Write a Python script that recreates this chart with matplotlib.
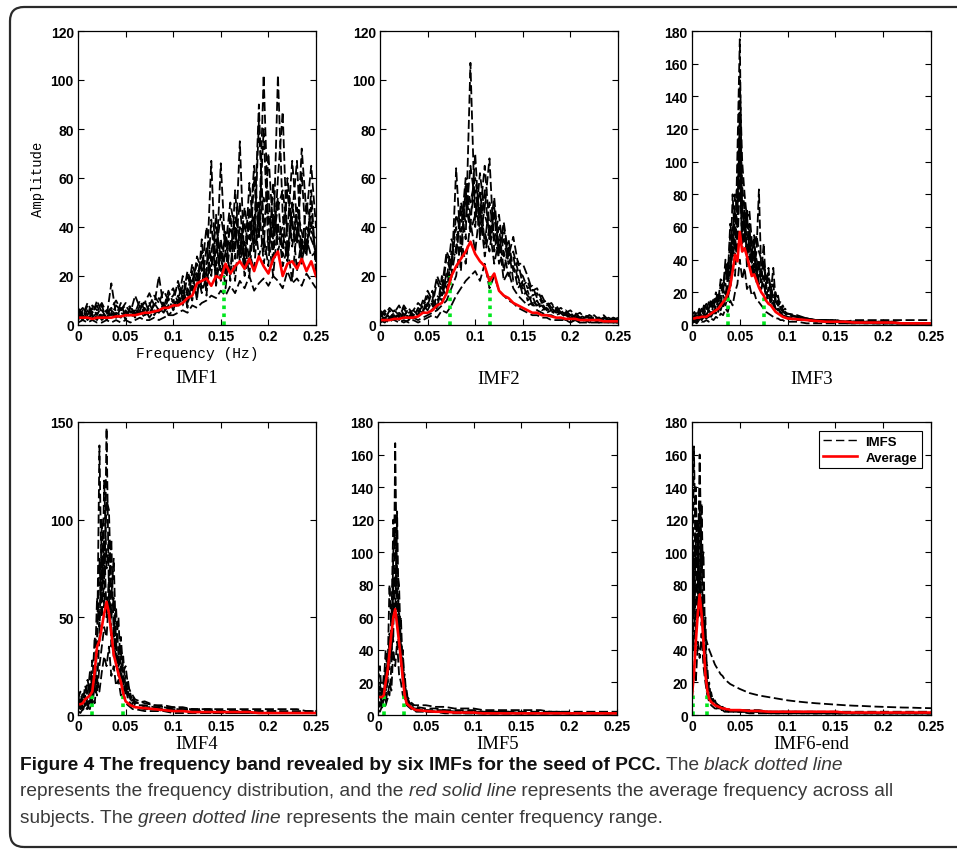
import matplotlib
matplotlib.use("Agg")
import matplotlib.pyplot as plt
from matplotlib.patches import FancyBboxPatch
from matplotlib.lines import Line2D

W, H = 957, 854
OUT = "out.png"

# ---------------- data ----------------
x_ticks = [0, 0.05, 0.1, 0.15, 0.2, 0.25]
x_tick_labels = ["0", "0.05", "0.1", "0.15", "0.2", "0.25"]
panel_names = ["IMF1", "IMF2", "IMF3", "IMF4", "IMF5", "IMF6-end"]
panel_ymax = [120, 120, 180, 150, 180, 180]
panel_ystep = [20, 20, 20, 50, 20, 20]

# IMF1 / IMF2 sampled every 0.005 Hz
imf1_freq = [0, .005, .01, .015, .02, .025, .03, .035, .04, .045,
             .05, .055, .06, .065, .07, .075, .08, .085, .09, .095,
             .1, .105, .11, .115, .12, .125, .13, .135, .14, .145,
             .15, .155, .16, .165, .17, .175, .18, .185, .19, .195,
             .2, .205, .21, .215, .22, .225, .23, .235, .24, .245, .25]
imf2_freq = imf1_freq

imf1_avg = [3, 3, 3, 2.5, 3, 3, 3, 3, 3.5, 3.5,
            4, 4, 4, 4.5, 5, 5, 5.5, 6, 7, 7,
            8, 8, 9, 11, 12, 17, 18, 19, 16, 20,
            19, 25, 21, 24, 26, 23, 27, 22, 28, 24,
            21, 27, 30, 20, 25, 26, 23, 27, 22, 26, 20]
imf1_subjects = [
    [4, 2, 6, 3, 5, 2, 4, 7, 3, 5, 4, 6, 3, 8, 5, 4, 9, 6, 5, 8,
     10, 7, 14, 9, 18, 25, 15, 32, 20, 45, 22, 38, 18, 55, 30, 42, 25, 60, 35, 102,
     40, 30, 102, 45, 28, 50, 35, 62, 30, 48, 25],
    [2, 5, 3, 4, 2, 6, 3, 17, 4, 3, 6, 3, 5, 4, 7, 3, 6, 5, 9, 4,
     6, 12, 8, 15, 10, 22, 13, 20, 67, 18, 35, 20, 45, 27, 75, 22, 48, 30, 83, 40,
     55, 25, 60, 87, 30, 45, 67, 25, 40, 35, 30],
    [6, 3, 8, 4, 10, 5, 3, 6, 4, 9, 3, 7, 4, 6, 10, 5, 8, 20, 7, 12,
     15, 9, 20, 12, 25, 18, 30, 14, 28, 22, 66, 28, 40, 32, 50, 24, 58, 36, 90, 30,
     70, 38, 52, 28, 60, 40, 33, 72, 45, 65, 40],
    [3, 4, 2, 5, 3, 4, 6, 3, 5, 4, 5, 4, 6, 5, 4, 7, 5, 6, 8, 7,
     8, 10, 12, 9, 16, 14, 18, 25, 30, 40, 28, 36, 30, 44, 35, 26, 42, 32, 38, 80,
     30, 45, 35, 40, 55, 32, 48, 38, 30, 42, 28],
    [5, 7, 4, 8, 6, 9, 5, 7, 10, 6, 8, 5, 12, 7, 9, 13, 8, 11, 7, 14,
     9, 18, 11, 22, 16, 12, 26, 19, 24, 35, 18, 30, 22, 40, 26, 34, 20, 45, 28, 36,
     24, 58, 30, 38, 26, 44, 22, 35, 28, 55, 20],
    [1, 2, 1, 2, 1, 1, 2, 1, 2, 1, 2, 1, 2, 3, 2, 2, 3, 2, 3, 4,
     4, 5, 6, 5, 8, 7, 9, 10, 12, 11, 14, 12, 16, 13, 18, 15, 20, 14, 17, 19,
     16, 20, 18, 15, 22, 17, 19, 16, 21, 18, 15],
    [7, 4, 9, 5, 8, 3, 6, 4, 8, 6, 9, 7, 5, 10, 6, 8, 12, 9, 14, 10,
     12, 16, 10, 20, 14, 28, 22, 40, 26, 30, 45, 32, 50, 38, 28, 48, 35, 65, 40, 52,
     45, 35, 48, 55, 38, 67, 42, 30, 50, 38, 35],
    [3, 6, 2, 7, 4, 8, 2, 5, 3, 7, 2, 8, 4, 6, 3, 9, 4, 7, 5, 11,
     6, 9, 16, 7, 22, 10, 35, 12, 43, 16, 30, 15, 35, 18, 40, 20, 30, 22, 50, 25,
     36, 20, 42, 24, 32, 18, 40, 26, 35, 28, 30],
]

imf2_avg = [2, 2, 2, 2.5, 2.5, 3, 3, 3, 3.5, 5,
            5, 6, 8, 9, 13, 20, 24, 27, 30, 34,
            29, 26, 24, 18, 21, 14, 12, 11, 9, 8,
            7, 6, 5, 5, 4, 4, 3.5, 3, 3, 2.5,
            2.5, 2.5, 2, 2, 2, 2, 2, 1.5, 1.5, 1.5, 1.5]
imf2_subjects = [
    [3, 5, 2, 6, 4, 3, 7, 4, 5, 8, 6, 10, 8, 15, 12, 30, 28, 48, 35, 107,
     40, 62, 45, 38, 52, 30, 35, 25, 28, 18, 15, 12, 10, 8, 9, 6, 7, 5, 6, 4,
     5, 3, 4, 3, 4, 2, 3, 4, 2, 3, 2],
    [2, 3, 4, 2, 5, 3, 2, 4, 6, 5, 9, 7, 12, 10, 22, 18, 64, 30, 55, 40,
     70, 35, 48, 68, 30, 40, 22, 32, 18, 20, 12, 14, 8, 10, 6, 7, 5, 6, 4, 5,
     3, 4, 2, 3, 3, 4, 2, 3, 2, 2, 3],
    [5, 2, 6, 3, 4, 7, 3, 5, 4, 10, 8, 14, 6, 20, 15, 25, 40, 22, 58, 45,
     55, 42, 38, 30, 45, 25, 30, 20, 24, 15, 18, 10, 12, 7, 8, 5, 6, 4, 5, 3,
     4, 2, 3, 2, 3, 2, 2, 3, 2, 2, 2],
    [1, 2, 1, 3, 2, 1, 2, 3, 2, 3, 4, 5, 6, 8, 10, 15, 20, 35, 25, 42,
     30, 48, 28, 40, 25, 35, 18, 22, 15, 12, 10, 8, 9, 6, 5, 4, 4, 3, 3, 2,
     2, 2, 1, 2, 1, 2, 1, 1, 2, 1, 1],
    [4, 6, 3, 5, 8, 4, 6, 3, 7, 5, 12, 8, 18, 12, 28, 20, 32, 45, 50, 38,
     45, 55, 33, 50, 36, 28, 40, 25, 30, 22, 20, 15, 16, 11, 12, 8, 9, 6, 7, 5,
     6, 4, 5, 3, 4, 3, 3, 2, 3, 2, 3],
    [2, 1, 3, 2, 1, 2, 1, 2, 1, 2, 3, 4, 3, 6, 5, 8, 12, 15, 18, 20,
     22, 18, 25, 15, 20, 14, 12, 10, 9, 7, 6, 5, 4, 4, 3, 3, 2, 2, 2, 2,
     1, 2, 1, 1, 1, 1, 1, 1, 1, 1, 1],
    [6, 4, 7, 5, 3, 8, 5, 6, 9, 7, 14, 10, 20, 15, 30, 25, 45, 38, 60, 50,
     60, 45, 65, 40, 35, 45, 28, 35, 22, 26, 16, 18, 12, 13, 9, 10, 7, 8, 5, 6,
     4, 5, 3, 4, 3, 3, 2, 3, 2, 3, 2],
    [1, 3, 2, 4, 2, 5, 3, 6, 4, 6, 8, 6, 10, 13, 18, 35, 30, 50, 42, 65,
     50, 38, 55, 35, 48, 30, 42, 28, 36, 25, 25, 20, 14, 15, 10, 9, 6, 7, 4, 4,
     3, 3, 3, 2, 2, 2, 2, 2, 1, 1, 1],
]

# IMF3: fine below 0.1 Hz, coarse above
imf3_freq = [0, .0025, .005, .0075, .01, .0125, .015, .0175, .02, .0225,
             .025, .0275, .03, .0325, .035, .0375, .04, .0425, .045, .0475,
             .05, .0525, .055, .0575, .06, .0625, .065, .0675, .07, .0725,
             .075, .0775, .08, .0825, .085, .0875, .09, .0925, .095, .0975,
             .1, .11, .12, .13, .14, .15, .16, .17, .18, .19,
             .2, .21, .22, .23, .24, .25]
imf3_avg = [4, 4, 4.5, 4.5, 5, 5, 5, 6, 7, 8,
            9, 10, 12, 14, 16, 19, 24, 33, 43, 39,
            57, 45, 47, 42, 36, 30, 31, 27, 23, 20,
            18, 15, 13, 12, 10, 8, 7, 6, 5, 4.5,
            4, 3.5, 3, 2.5, 2, 2, 2, 1.5, 1.5, 1.5,
            1.5, 1.5, 1, 1, 1, 1]
imf3_subjects = [
    [3, 6, 4, 8, 5, 10, 6, 9, 7, 12, 10, 16, 12, 22, 18, 30, 25, 48, 40, 105,
     175, 60, 50, 70, 40, 45, 30, 38, 25, 28, 22, 20, 15, 18, 12, 10, 9, 7, 6, 5,
     4, 4, 3, 3, 3, 3, 2, 3, 3, 3, 3, 3, 3, 3, 3, 3],
    [5, 3, 7, 4, 9, 6, 11, 8, 14, 10, 18, 12, 25, 20, 35, 28, 55, 42, 70, 60,
     130, 75, 58, 45, 62, 38, 42, 33, 28, 35, 25, 18, 22, 14, 16, 10, 11, 7, 8, 5,
     5, 4, 3, 2, 3, 2, 2, 2, 2, 1, 2, 1, 1, 1, 1, 1],
    [2, 4, 3, 5, 3, 6, 4, 5, 8, 6, 12, 8, 15, 10, 20, 14, 32, 80, 50, 45,
     90, 50, 75, 40, 55, 50, 35, 45, 83, 30, 38, 25, 30, 20, 35, 15, 18, 10, 12, 8,
     7, 6, 4, 3, 3, 2, 2, 2, 2, 1, 1, 1, 1, 1, 1, 1],
    [4, 2, 5, 3, 6, 4, 7, 5, 6, 9, 7, 11, 9, 14, 12, 18, 22, 35, 30, 60,
     100, 45, 65, 35, 48, 30, 55, 25, 40, 22, 30, 15, 20, 12, 14, 9, 10, 8, 6, 6,
     4, 3, 3, 2, 2, 2, 1, 1, 1, 1, 1, 1, 1, 1, 1, 1],
    [6, 8, 5, 10, 7, 12, 9, 14, 11, 16, 14, 20, 16, 28, 24, 38, 30, 55, 45, 75,
     110, 70, 60, 55, 50, 40, 45, 35, 30, 32, 50, 22, 35, 18, 25, 12, 15, 10, 9, 7,
     6, 5, 4, 3, 3, 2, 2, 2, 2, 2, 2, 2, 1, 1, 1, 1],
    [1, 2, 1, 3, 2, 2, 3, 2, 4, 3, 5, 4, 7, 6, 10, 8, 15, 12, 20, 25,
     40, 28, 35, 22, 25, 18, 20, 15, 14, 12, 10, 8, 7, 6, 5, 4, 4, 3, 3, 2,
     2, 2, 1, 1, 1, 1, 1, 1, 1, 1, 1, 1, 1, 1, 1, 1],
    [3, 5, 8, 6, 10, 8, 13, 10, 16, 13, 20, 15, 28, 22, 40, 30, 62, 50, 80, 70,
     120, 85, 70, 60, 58, 45, 50, 40, 35, 30, 40, 28, 25, 20, 18, 15, 12, 10, 8, 7,
     6, 5, 4, 3, 3, 2, 2, 2, 2, 2, 1, 1, 1, 1, 1, 1],
    [2, 3, 2, 4, 3, 5, 4, 6, 5, 8, 9, 12, 14, 18, 15, 25, 38, 60, 55, 90,
     150, 100, 80, 65, 70, 52, 48, 55, 45, 40, 35, 30, 22, 25, 16, 20, 12, 14, 9, 10,
     7, 5, 4, 3, 3, 3, 2, 2, 2, 2, 2, 2, 1, 1, 1, 1],
]

# IMF4: fine below 0.06 Hz
imf4_freq = [0, .0025, .005, .0075, .01, .0125, .015, .0175, .02, .0225,
             .025, .0275, .03, .0325, .035, .0375, .04, .0425, .045, .0475,
             .05, .0525, .055, .0575, .06, .07, .08, .09, .1, .11,
             .12, .13, .14, .15, .16, .17, .18, .19, .2, .21,
             .22, .23, .24, .25]
imf4_avg = [5.5, 5.5, 6, 8, 9, 10, 12, 22, 35, 38,
            45, 52, 58, 52, 42, 31, 26, 21, 17, 11,
            7, 6, 5, 4.5, 4, 3.5, 3, 2.5, 2, 2,
            1.5, 1.5, 1.5, 1.5, 1.5, 1.5, 1.5, 1, 1, 1,
            1, 1, 1, 1]
imf4_subjects = [
    [8, 12, 6, 15, 10, 22, 14, 40, 30, 138, 60, 90, 50, 70, 35, 45, 25, 30, 18, 20,
     10, 12, 7, 8, 5, 5, 4, 4, 3, 3, 3, 3, 3, 3, 3, 3, 3, 3, 3, 3, 3, 3, 2, 2],
    [10, 5, 12, 8, 18, 12, 28, 20, 60, 45, 80, 55, 147, 60, 90, 40, 55, 30, 40, 22,
     25, 15, 12, 10, 8, 6, 5, 4, 4, 3, 3, 2, 2, 2, 2, 2, 2, 2, 2, 2, 1, 1, 1, 1],
    [4, 8, 3, 10, 5, 14, 8, 25, 15, 40, 100, 70, 110, 105, 60, 80, 35, 50, 20, 30,
     12, 18, 8, 10, 6, 7, 5, 5, 4, 4, 3, 3, 3, 2, 2, 2, 2, 2, 2, 2, 2, 2, 2, 2],
    [6, 3, 8, 4, 9, 6, 20, 12, 35, 80, 50, 120, 75, 90, 50, 60, 30, 25, 35, 15,
     20, 10, 11, 6, 7, 4, 4, 3, 3, 2, 2, 2, 2, 2, 1, 1, 1, 1, 1, 1, 1, 1, 1, 1],
    [3, 5, 2, 6, 3, 8, 5, 15, 10, 25, 35, 45, 40, 60, 45, 30, 38, 20, 25, 12,
     14, 8, 6, 5, 4, 3, 3, 2, 2, 2, 2, 1, 1, 1, 1, 1, 1, 1, 1, 1, 1, 1, 1, 1],
    [2, 1, 3, 2, 4, 3, 10, 6, 18, 12, 22, 30, 25, 35, 20, 25, 15, 18, 10, 12,
     6, 5, 4, 3, 3, 2, 2, 2, 1, 1, 1, 1, 1, 1, 1, 1, 1, 1, 1, 1, 1, 1, 1, 1],
]

# IMF5 / IMF6-end: fine below 0.04 Hz
imf5_freq = [0, .002, .004, .006, .008, .01, .012, .014, .016, .018,
             .02, .022, .024, .026, .028, .03, .032, .034, .036, .038,
             .04, .05, .06, .07, .08, .09, .1, .11, .12, .13,
             .14, .15, .16, .17, .18, .19, .2, .21, .22, .23,
             .24, .25]
imf6_freq = imf5_freq

imf5_avg = [11, 11, 11, 12, 20, 27, 38, 50, 60, 65,
            55, 45, 34, 22, 12, 7, 6, 5, 4, 3.5,
            3, 2.5, 2, 2, 1.5, 1.5, 1.5, 1, 1, 1,
            1, 1, 1, 1, 1, 1, 1, 1, 1, 1,
            1, 1]
imf5_subjects = [
    [12, 20, 8, 25, 15, 35, 28, 60, 45, 167, 70, 55, 30, 35, 18, 12, 8, 7, 6, 5, 5,
     4, 4, 3, 3, 3, 3, 2, 2, 2, 2, 2, 2, 2, 2, 2, 1, 1, 1, 1, 1, 1],
    [8, 5, 15, 10, 30, 20, 50, 40, 80, 60, 125, 45, 60, 25, 20, 10, 8, 6, 5, 4, 4,
     3, 3, 3, 2, 2, 2, 2, 2, 2, 2, 1, 1, 1, 1, 1, 1, 1, 1, 1, 1, 1],
    [20, 30, 10, 18, 40, 25, 80, 55, 120, 100, 90, 80, 40, 25, 15, 12, 10, 8, 7, 6, 6,
     6, 5, 5, 4, 4, 4, 3, 3, 3, 3, 3, 3, 3, 2, 2, 2, 2, 2, 2, 2, 2],
    [5, 8, 4, 10, 8, 15, 12, 30, 70, 90, 60, 40, 50, 20, 25, 8, 9, 5, 4, 4, 3,
     3, 2, 2, 2, 2, 2, 1, 1, 1, 1, 1, 1, 1, 1, 1, 1, 1, 1, 1, 1, 1],
    [10, 14, 6, 8, 12, 20, 45, 35, 100, 115, 75, 65, 35, 40, 12, 15, 6, 5, 5, 3, 3,
     2, 2, 2, 2, 1, 1, 1, 1, 1, 1, 1, 1, 1, 1, 1, 1, 1, 1, 1, 1, 1],
    [3, 2, 5, 4, 6, 10, 20, 15, 40, 30, 45, 25, 20, 12, 10, 6, 5, 4, 3, 3, 2,
     2, 2, 1, 1, 1, 1, 1, 1, 1, 1, 1, 1, 1, 1, 1, 1, 1, 1, 1, 1, 1],
]

imf6_avg = [12, 25, 45, 62, 74, 62, 45, 25, 15, 10,
            8, 7, 6, 5.5, 5, 4.5, 4, 4, 3.5, 3.5,
            3, 3, 2.5, 2.5, 2, 2, 2, 2, 2, 2,
            2, 2, 1.5, 1.5, 1.5, 1.5, 1.5, 1.5, 1.5, 1.5,
            1.5, 1.5]
imf6_subjects = [
    [40, 165, 90, 110, 60, 130, 70, 40, 20, 15, 10, 9, 8, 7, 6, 5, 5, 4, 4, 4, 3,
     3, 3, 3, 2, 2, 2, 2, 2, 2, 2, 2, 2, 2, 2, 2, 2, 2, 2, 2, 2, 2],
    [130, 60, 140, 80, 160, 90, 100, 35, 30, 12, 14, 8, 9, 6, 6, 5, 4, 4, 3, 3, 3,
     3, 2, 2, 2, 2, 2, 2, 2, 2, 1, 1, 1, 1, 1, 1, 1, 1, 1, 1, 1, 1],
    [20, 100, 50, 120, 70, 100, 45, 60, 15, 20, 8, 10, 6, 7, 5, 4, 4, 3, 3, 3, 3,
     2, 2, 2, 2, 2, 2, 2, 1, 1, 1, 1, 1, 1, 1, 1, 1, 1, 1, 1, 1, 1],
    [80, 40, 110, 60, 130, 55, 75, 25, 18, 10, 9, 6, 6, 5, 4, 4, 3, 3, 3, 2, 2,
     2, 2, 2, 1, 1, 1, 1, 1, 1, 1, 1, 1, 1, 1, 1, 1, 1, 1, 1, 1, 1],
    [60, 90, 120, 100, 80, 65, 55, 48, 44, 40, 37, 34, 31, 29, 27, 25, 24, 22, 21, 20, 19,
     16, 13.5, 12, 11, 10, 9, 8.3, 7.7, 7.2, 6.8, 6.4, 6, 5.7, 5.5, 5.2, 5, 4.8, 4.6, 4.5, 4.3, 4.2],
    [10, 30, 20, 45, 35, 50, 30, 20, 12, 8, 6, 5, 4, 4, 3, 3, 3, 2, 2, 2, 2,
     2, 1, 1, 1, 1, 1, 1, 1, 1, 1, 1, 1, 1, 1, 1, 1, 1, 1, 1, 1, 1],
]

# green dotted markers: (frequency, height)
imf1_band = [(0.153, 20)]
imf2_band = [(0.074, 20), (0.116, 20)]
imf3_band = [(0.038, 17), (0.075, 19)]
imf4_band = [(0.0145, 11), (0.0476, 12)]
imf5_band = [(0.0066, 13), (0.0275, 13)]
imf6_band = [(0.0012, 15), (0.0157, 15)]

caption_lines = [
    [("Figure 4 The frequency band revealed by six IMFs for the seed of PCC.", "bold", "normal"),
     (" The ", "normal", "normal"), ("black dotted line", "normal", "italic")],
    [("represents the frequency distribution, and the ", "normal", "normal"),
     ("red solid line", "normal", "italic"),
     (" represents the average frequency across all", "normal", "normal")],
    [("subjects. The ", "normal", "normal"), ("green dotted line", "normal", "italic"),
     (" represents the main center frequency range.", "normal", "normal")],
]

# ---------------- layout (pixels) ----------------
axes_px = [(78, 32, 238, 294), (380, 32, 238, 294), (692, 32, 239, 294),
           (78, 423, 238, 293), (378, 423, 239, 293), (692, 423, 239, 293)]
label_y_px = [379, 380, 380, 745, 745, 745]

TICK_FONT = "Liberation Sans"
MONO_FONT = "Liberation Mono"
SERIF_FONT = "Liberation Serif"
CAPTION_FONT = "Liberation Sans"
DASH = (0, (5, 2))


def style_axes(ax, ymax, ystep):
    ax.set_xlim(0, 0.25)
    ax.set_ylim(0, ymax)
    ax.set_xticks(x_ticks)
    ax.set_xticklabels(x_tick_labels)
    ax.set_yticks(list(range(0, ymax + 1, ystep)))
    ax.tick_params(direction="in", top=True, right=True, length=4, width=0.8,
                   labelsize=10, pad=3, colors="black")
    for lab in ax.get_xticklabels() + ax.get_yticklabels():
        lab.set_fontweight("bold")
        lab.set_family(TICK_FONT)
    for sp in ax.spines.values():
        sp.set_linewidth(0.9)


def draw_rich_line(fig, renderer, x_px, y_px, pieces, size):
    x = x_px
    for txt, weight, style in pieces:
        color = "#111111" if weight == "bold" else "#3a3a3a"
        t = fig.text(x / W, 1 - y_px / H, txt, fontsize=size, fontweight=weight,
                     fontstyle=style, color=color, family=CAPTION_FONT,
                     ha="left", va="baseline")
        x += t.get_window_extent(renderer).width


def main():
    fig = plt.figure(figsize=(W / 100, H / 100), dpi=100)

    freqs = [imf1_freq, imf2_freq, imf3_freq, imf4_freq, imf5_freq, imf6_freq]
    avgs = [imf1_avg, imf2_avg, imf3_avg, imf4_avg, imf5_avg, imf6_avg]
    subjects = [imf1_subjects, imf2_subjects, imf3_subjects,
                imf4_subjects, imf5_subjects, imf6_subjects]
    bands = [imf1_band, imf2_band, imf3_band, imf4_band, imf5_band, imf6_band]

    for i in range(6):
        lx, ty, w, h = axes_px[i]
        ax = fig.add_axes([lx / W, 1 - (ty + h) / H, w / W, h / H])
        for s in subjects[i]:
            ax.plot(freqs[i], s, color="black", lw=1.3, linestyle=DASH)
        for f, top in bands[i]:
            ax.plot([f, f], [0, top], color="#00e61e", lw=2.6, linestyle=(0, (1, 1.2)))
        ax.plot(freqs[i], avgs[i], color="red", lw=1.9)
        style_axes(ax, panel_ymax[i], panel_ystep[i])

        if i == 0:
            ax.set_ylabel("Amplitude", family=MONO_FONT, fontsize=10, labelpad=4)
            ax.set_xlabel("Frequency (Hz)", family=MONO_FONT, fontsize=10.5, labelpad=2)
        if i == 5:
            handles = [Line2D([], [], color="black", lw=1.0, linestyle=(0, (6, 3))),
                       Line2D([], [], color="red", lw=1.9)]
            leg = ax.legend(handles, ["IMFS", "Average"], loc="upper right",
                            prop={"family": TICK_FONT, "weight": "bold", "size": 9.5},
                            fancybox=False, edgecolor="black", framealpha=1,
                            handlelength=2.6, handletextpad=0.6, borderpad=0.35,
                            labelspacing=0.25, borderaxespad=0.7)
            leg.get_frame().set_linewidth(0.8)

        fig.text((lx + w / 2) / W, 1 - label_y_px[i] / H, panel_names[i],
                 family=SERIF_FONT, fontsize=13.5, ha="center", va="center")

    # rounded border around the figure panel (right edge runs off the image)
    border = FancyBboxPatch((0.10, 0.06), 10.2, 8.40,
                            boxstyle="round,pad=0,rounding_size=0.14",
                            transform=fig.dpi_scale_trans, fill=False,
                            edgecolor="#2a2a2a", lw=1.6)
    fig.patches.append(border)

    renderer = fig.canvas.get_renderer()
    for k, pieces in enumerate(caption_lines):
        draw_rich_line(fig, renderer, 20, 770 + k * 26.5, pieces, 13.8)

    fig.savefig(OUT, dpi=100)


if __name__ == "__main__":
    main()
